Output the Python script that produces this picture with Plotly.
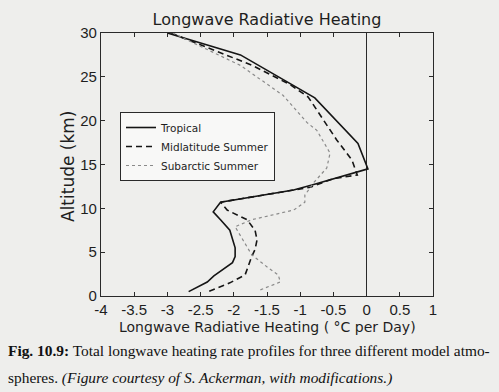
import plotly.graph_objects as go

# ---- data ----
alt_trop = [0.5, 1.6, 2.3, 3.1, 3.8, 4.5, 5.5, 6.5, 7.5, 8.7, 9.6, 10.7, 12.1, 12.7, 14.5, 17.4, 22.6, 27.5, 30]
heat_trop = [-2.68, -2.4, -2.3, -2.15, -2.02, -1.98, -1.98, -2.02, -2.06, -2.2, -2.31, -2.2, -1.1, -0.81, 0.02, -0.13, -0.78, -1.9, -3.0]

alt_mid = [0.55, 1.5, 2.4, 3.5, 4.5, 5.3, 6.4, 7.5, 8.7, 9.8, 10.7, 12.4, 13.4, 13.8, 15.5, 17.8, 19.7, 22.7, 24.1, 26.3, 30]
heat_mid = [-2.37, -2.06, -1.83, -1.78, -1.73, -1.68, -1.65, -1.68, -1.8, -2.1, -2.2, -0.85, -0.5, -0.14, -0.22, -0.45, -0.62, -0.88, -1.15, -1.72, -2.95]

alt_sub = [0.7, 1.6, 2.4, 3.2, 4.7, 6.4, 7.9, 8.7, 9.8, 10.7, 11.5, 12.9, 14.6, 16.3, 18.9, 19.8, 22.9, 26.3, 30]
heat_sub = [-1.6, -1.3, -1.33, -1.48, -1.73, -1.86, -1.98, -1.73, -1.1, -0.93, -0.93, -0.8, -0.6, -0.55, -0.75, -0.9, -1.26, -1.9, -2.92]

series_names = ["Tropical", "Midlatitude Summer", "Subarctic Summer"]

x_ticks = [-4, -3.5, -3, -2.5, -2, -1.5, -1, -0.5, 0, 0.5, 1]
x_tick_labels = ["-4", "-3.5", "-3", "-2.5", "-2", "-1.5", "-1", "-0.5", "0", "0.5", "1"]
y_ticks = [0, 5, 10, 15, 20, 25, 30]
y_tick_labels = ["0", "5", "10", "15", "20", "25", "30"]

title_text = "Longwave Radiative Heating"
x_title = "Longwave Radiative Heating ( °C per Day)"
y_title = "Altitude (km)"
caption1 = "<b>Fig. 10.9:</b> Total longwave heating rate profiles for three different model atmo-"
caption2 = "spheres. <i>(Figure courtesy of S. Ackerman, with modifications.)</i>"

BG = "#eeeeec"
INK = "#1e1e1e"
SANS = "DejaVu Sans"
TICKFONT = "Liberation Sans"

fig = go.Figure()
fig.add_trace(go.Scatter(x=heat_trop, y=alt_trop, mode="lines", name=series_names[0],
                         line=dict(color="#151515", width=1.6)))
fig.add_trace(go.Scatter(x=heat_mid, y=alt_mid, mode="lines", name=series_names[1],
                         line=dict(color="#151515", width=1.6, dash="6px,4px")))
fig.add_trace(go.Scatter(x=heat_sub, y=alt_sub, mode="lines", name=series_names[2],
                         line=dict(color="#8a8a8a", width=1.2, dash="dot")))

axis_common = dict(showline=True, linecolor="#2a2a2a", linewidth=1.3, mirror="ticks",
                   ticks="inside", ticklen=4, tickcolor="#2a2a2a", tickwidth=1,
                   showgrid=False, tickfont=dict(family=TICKFONT, size=15, color=INK))

fig.update_layout(
    width=499, height=392, autosize=False,
    margin=dict(l=101, r=66, t=33, b=96),
    paper_bgcolor=BG, plot_bgcolor=BG,
    title=dict(text=title_text, x=267 / 499, xanchor="center", y=1 - 19 / 392, yanchor="middle",
               font=dict(family=SANS, size=16, color=INK)),
    xaxis=dict(range=[-4, 1], tickvals=x_ticks, ticktext=x_tick_labels,
               zeroline=True, zerolinecolor="#2a2a2a", zerolinewidth=1, **axis_common),
    yaxis=dict(range=[0, 30], tickvals=y_ticks, ticktext=y_tick_labels,
               zeroline=False, **axis_common),
    showlegend=True,
    legend=dict(x=(120 - 101) / 332, y=(296 - 112) / 263, xanchor="left", yanchor="top",
                bgcolor="#f8f8f7", bordercolor="#2a2a2a", borderwidth=1,
                font=dict(family=SANS, size=10.5, color=INK), tracegroupgap=0),
    annotations=[
        dict(text=x_title, xref="paper", yref="paper", x=0.5, y=(296 - 327) / 263,
             xanchor="center", yanchor="middle", showarrow=False,
             font=dict(family=SANS, size=14, color=INK)),
        dict(text=y_title, xref="paper", yref="paper", x=(68 - 101) / 332, y=(296 - 166) / 263,
             xanchor="center", yanchor="middle", showarrow=False, textangle=-90,
             font=dict(family=SANS, size=17, color=INK)),
        dict(text=caption1, xref="paper", yref="paper", x=(6 - 101) / 332, y=(296 - 350) / 263,
             xanchor="left", yanchor="middle", showarrow=False,
             font=dict(family="Liberation Serif", size=15.4, color="#111")),
        dict(text=caption2, xref="paper", yref="paper", x=(6 - 101) / 332, y=(296 - 378) / 263,
             xanchor="left", yanchor="middle", showarrow=False,
             font=dict(family="Liberation Serif", size=15.4, color="#111")),
    ],
)

fig.write_html("out.html", config={"displayModeBar": False},
               post_script="document.body.style.margin='0px';document.body.style.background='%s';" % BG)
